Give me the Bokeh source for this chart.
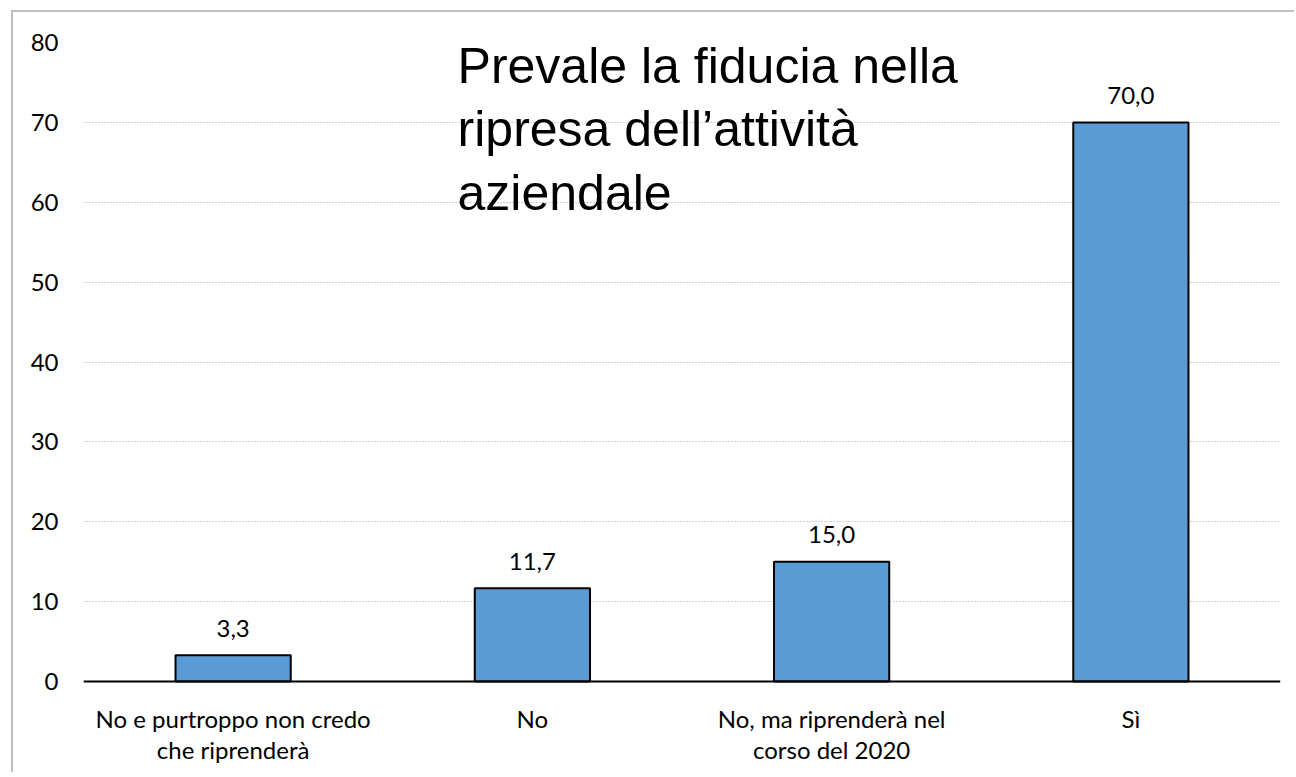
from bokeh.plotting import figure
from bokeh.models import ColumnDataSource, FixedTicker, Range1d, FactorRange, Label, Span
from bokeh.core.properties import value
from bokeh.embed import file_html
from bokeh.resources import INLINE

categories = ["No e purtroppo non credo che riprenderà", "No",
              "No, ma riprenderà nel corso del 2020", "Sì"]
category_labels = ["No e purtroppo non credo\nche riprenderà", "No",
                   "No, ma riprenderà nel\ncorso del 2020", "Sì"]
values = [3.3, 11.7, 15.0, 70.0]
y_ticks = [0, 10, 20, 30, 40, 50, 60, 70, 80]
title_text = "Prevale la fiducia nella\nripresa dell\u2019attività\naziendale"

FONT = "Lato"
FSIZE = "24px"

src = ColumnDataSource(dict(cat=categories, val=values, zero=[0] * len(values),
                            catlab=category_labels,
                            lab=[f"{v:.1f}".replace(".", ",") for v in values]))

p = figure(x_range=FactorRange(*categories, range_padding=0), y_range=Range1d(-11, 80),
           width=1283, height=762, output_backend="svg", toolbar_location=None,
           min_border_left=70, min_border_right=16, min_border_top=30, min_border_bottom=5)
p.styles = {"border-left": "2px solid #bfbfbf", "border-top": "2px solid #bfbfbf",
            "margin-left": "11px", "margin-top": "10px"}
p.outline_line_color = None
p.background_fill_color = "white"

p.vbar(x="cat", top="val", width=0.385, source=src, fill_color="#5B9BD5",
       line_color="black", line_width=2)
p.text(x="cat", y="val", text="lab", source=src, text_align="center",
       text_baseline="middle", y_offset=-27, text_font=value(FONT),
       text_font_size=FSIZE, text_color="black")

# category labels under the baseline
p.text(x="cat", y="zero", text="catlab", source=src, text_align="center",
       text_baseline="top", y_offset=22, text_font=value(FONT),
       text_font_size=FSIZE, text_color="black", text_line_height=1.08)

# baseline (category axis line) at 0
p.add_layout(Span(location=0, dimension="width", line_color="black", line_width=2))

p.yaxis.ticker = FixedTicker(ticks=y_ticks)
p.yaxis.axis_line_color = None
p.yaxis.major_tick_line_color = None
p.yaxis.minor_tick_line_color = None
p.yaxis.major_label_text_font = FONT
p.yaxis.major_label_text_font_size = FSIZE
p.yaxis.major_label_text_color = "black"
p.yaxis.major_label_standoff = 19

p.xaxis.visible = False

p.xgrid.grid_line_color = None
p.ygrid.grid_line_color = "#a6a6a6"
p.ygrid.grid_line_dash = "1 2"
p.ygrid.grid_line_width = 1

p.add_layout(Label(x=1.25, y=80.55, text=title_text, text_font="Liberation Sans",
                   text_font_size="50px", text_color="black", text_baseline="top",
                   text_align="left", text_line_height=1.13))

open("out.html", "w").write(file_html(p, INLINE))
